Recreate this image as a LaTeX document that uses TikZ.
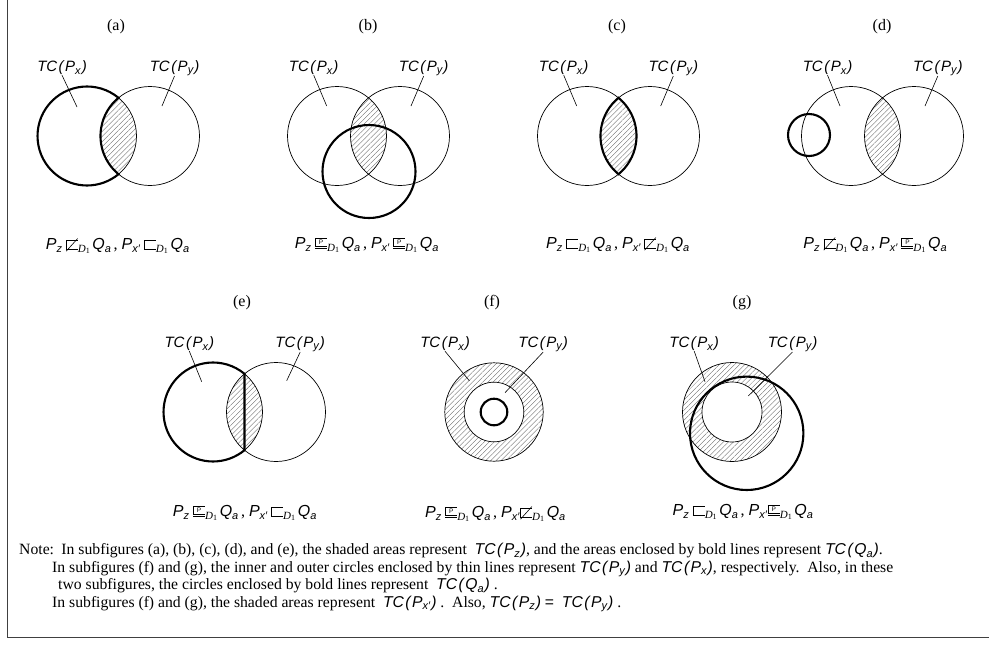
\documentclass[tikz,border=0pt]{standalone}
\usepackage{fontspec}
\usepackage{graphicx}
\setmainfont{Liberation Serif}
\newfontfamily\hvf{Liberation Sans}
\usetikzlibrary{patterns.meta}

\newcommand\hvi{\hvf\itshape}
\newcommand\lowsub[1]{\raisebox{-0.32ex}{\fontsize{11}{11}\selectfont #1}}
\newcommand\tcof[2]{{\hvi TC\kern1.5pt(\kern1.5pt#1\lowsub{#2}\kern1pt)}}
\newcommand\Dsub{\lowsub{\textit{D}\raisebox{-0.3ex}{\fontsize{8}{8}\selectfont 1}}}
\newcommand\sqbar{\vrule width .6pt height 10pt depth 0pt\kern-.6pt\vbox to 10pt{\hrule width 12pt height .6pt\vfill\hrule width 12pt height .6pt}}
\newcommand\sqsym{\hbox{\sqbar}}
\newcommand\nsqsym{\hbox{\rlap{\sqbar}\raisebox{-1.5pt}{\rotatebox{48}{\rule{17pt}{.6pt}}}}}
\newcommand\psqsym{\hbox{\vbox{\hbox{\vrule width .6pt height 8.5pt depth 0pt\kern-.6pt\vbox to 8.5pt{\hrule width 12pt height .6pt\vfil\hbox to 12pt{\hss{\fontsize{6.5}{6.5}\selectfont\hvf P}\hss}\vfil\hrule width 12pt height .6pt}}\kern1.6pt\hrule width 12pt height .6pt}}}
\newcommand\Pz{{\hvi P\lowsub{z}}}
\newcommand\Pxp{{\hvi P\lowsub{x′}}}
\newcommand\Qa{{\hvi Q\lowsub{a}}}

\begin{document}
\begin{tikzpicture}[x=1pt,y=-1pt,
  thinline/.style={line width=0.7pt},
  boldline/.style={line width=2.1pt},
  hatch/.style={pattern={Lines[angle=45,distance=3.6pt,line width=0.35pt]},pattern color=black!60},
  sublabel/.style={font=\fontsize{16}{16}\selectfont, inner sep=0pt},
  tclabel/.style={font=\fontsize{15}{15}\selectfont, inner sep=0pt},
  relation/.style={font=\fontsize{16}{16}\selectfont, inner sep=0pt},
  notetext/.style={font=\fontsize{15.7}{15.7}\selectfont, inner sep=0pt, anchor=base west},
  leader/.style={line width=0.6pt}]
\useasboundingbox (0,0) rectangle (989,646);

% frame
\coordinate (ftop) at (7,0);
\coordinate (fcorner) at (7,637);
\coordinate (fright) at (989,637);
\draw[line width=1pt, black!75] (ftop) -- (fcorner) -- (fright);

% ---------- (a)
\node[sublabel] (la) at (116,27) {(a)};
\coordinate (aL) at (87,136); \coordinate (aR) at (150,136);
\coordinate (aT) at (118.5,97.8);
\begin{scope}\clip (aL) circle[radius=49.5]; \fill[hatch] (aR) circle[radius=49.5];\end{scope}
\draw[thinline] (aL) circle[radius=49.5] (aR) circle[radius=49.5];
\draw[boldline] (aT) arc[start angle=-50.5,end angle=-309.5,radius=49.5] arc[start angle=129.5,end angle=230.5,radius=49.5] -- cycle;
\node[tclabel] (aPx) at (62,68) {\tcof{P}{x}};
\node[tclabel] (aPy) at (174.5,68) {\tcof{P}{y}};
\coordinate (aPxE) at (77,107); \coordinate (aPyE) at (162,106);
\draw[leader] (aPx.south) -- (aPxE);
\draw[leader] (aPy.south) -- (aPyE);
\node[relation] (ra) at (117.5,246) {\Pz\ \nsqsym\Dsub\,\Qa\,,\ \Pxp\ \sqsym\Dsub\,\Qa};

% ---------- (b)
\node[sublabel] (lb) at (368,27) {(b)};
\coordinate (bL) at (337,136); \coordinate (bR) at (400,136);
\coordinate (bQ) at (369,171.5);
\begin{scope}\clip (bL) circle[radius=49.5]; \fill[hatch] (bR) circle[radius=49.5];\end{scope}
\draw[thinline] (bL) circle[radius=49.5] (bR) circle[radius=49.5];
\draw[boldline] (bQ) circle[radius=46.5];
\node[tclabel] (bPx) at (313.7,68) {\tcof{P}{x}};
\node[tclabel] (bPy) at (423.7,68) {\tcof{P}{y}};
\coordinate (bPxE) at (326.7,106); \coordinate (bPyE) at (411,106);
\draw[leader] (bPx.south) -- (bPxE);
\draw[leader] (bPy.south) -- (bPyE);
\node[relation] (rb) at (366.7,245) {\Pz\ \psqsym\Dsub\,\Qa\,,\ \Pxp\ \psqsym\Dsub\,\Qa};

% ---------- (c)
\node[sublabel] (lc) at (617,27) {(c)};
\coordinate (cL) at (587,136); \coordinate (cR) at (650,136);
\coordinate (cT) at (618.5,97.8);
\begin{scope}\clip (cL) circle[radius=49.5]; \fill[hatch] (cR) circle[radius=49.5];\end{scope}
\draw[thinline] (cL) circle[radius=49.5] (cR) circle[radius=49.5];
\draw[boldline] (cT) arc[start angle=-50.5,end angle=50.5,radius=49.5] arc[start angle=129.5,end angle=230.5,radius=49.5] -- cycle;
\node[tclabel] (cPx) at (563.7,68) {\tcof{P}{x}};
\node[tclabel] (cPy) at (673.3,68) {\tcof{P}{y}};
\coordinate (cPxE) at (576.7,106); \coordinate (cPyE) at (660.7,106);
\draw[leader] (cPx.south) -- (cPxE);
\draw[leader] (cPy.south) -- (cPyE);
\node[relation] (rc) at (617.7,245) {\Pz\ \sqsym\Dsub\,\Qa\,,\ \Pxp\ \nsqsym\Dsub\,\Qa};

% ---------- (d)
\node[sublabel] (ld) at (882,27) {(d)};
\coordinate (dL) at (851,136); \coordinate (dR) at (914,136);
\coordinate (dQ) at (809,135);
\begin{scope}\clip (dL) circle[radius=49.5]; \fill[hatch] (dR) circle[radius=49.5];\end{scope}
\draw[thinline] (dL) circle[radius=49.5] (dR) circle[radius=49.5];
\draw[boldline] (dQ) circle[radius=21];
\node[tclabel] (dPx) at (827.5,68) {\tcof{P}{x}};
\node[tclabel] (dPy) at (937.8,68) {\tcof{P}{y}};
\coordinate (dPxE) at (840,106); \coordinate (dPyE) at (925,106);
\draw[leader] (dPx.south) -- (dPxE);
\draw[leader] (dPy.south) -- (dPyE);
\node[relation] (rd) at (875,245) {\Pz\ \nsqsym\Dsub\,\Qa\,,\ \Pxp\ \psqsym\Dsub\,\Qa};

% ---------- (e)
\node[sublabel] (le) at (242,303) {(e)};
\coordinate (eL) at (213,412); \coordinate (eR) at (276,412);
\coordinate (eT) at (244.5,373.8); \coordinate (eB) at (244.5,450.2);
\begin{scope}\clip (eL) circle[radius=49.5]; \fill[hatch] (eR) circle[radius=49.5];\end{scope}
\draw[thinline] (eL) circle[radius=49.5] (eR) circle[radius=49.5];
\draw[boldline] (eT) arc[start angle=-50.5,end angle=-309.5,radius=49.5] -- cycle;
\node[tclabel] (ePx) at (189.3,344) {\tcof{P}{x}};
\node[tclabel] (ePy) at (300.2,344) {\tcof{P}{y}};
\coordinate (ePxE) at (201.7,381.7); \coordinate (ePyE) at (286.7,380.7);
\draw[leader] (ePx.south) -- (ePxE);
\draw[leader] (ePy.south) -- (ePyE);
\node[relation] (re) at (244.7,513) {\Pz\ \psqsym\Dsub\,\Qa\,,\ \Pxp\ \sqsym\Dsub\,\Qa};

% ---------- (f)
\node[sublabel] (lf) at (492,303) {(f)};
\coordinate (fC) at (494,412);
\fill[hatch, even odd rule] (fC) circle[radius=49.2] (fC) circle[radius=29.8];
\draw[thinline] (fC) circle[radius=49.2] (fC) circle[radius=29.8];
\draw[boldline] (fC) circle[radius=13.3];
\node[tclabel] (fPx) at (445,344) {\tcof{P}{x}};
\node[tclabel] (fPy) at (543.2,344) {\tcof{P}{y}};
\coordinate (fPxE) at (469.3,380.7); \coordinate (fPyE) at (505,392.7);
\draw[leader] (fPx.south) -- (fPxE);
\draw[leader] (fPy.south) -- (fPyE);
\node[relation] (rf) at (495.2,514) {\Pz\ \psqsym\Dsub\,\Qa\,,\ \Pxp\kern1pt\nsqsym\Dsub\,\Qa};

% ---------- (g)
\node[sublabel] (lg) at (742,303) {(g)};
\coordinate (gC) at (732,412);
\coordinate (gQ) at (746.7,433.3);
\fill[hatch, even odd rule] (gC) circle[radius=49.5] (gC) circle[radius=30];
\draw[thinline] (gC) circle[radius=49.5] (gC) circle[radius=30];
\draw[boldline] (gQ) circle[radius=56.7];
\node[tclabel] (gPx) at (694.2,344) {\tcof{P}{x}};
\node[tclabel] (gPy) at (792.5,344) {\tcof{P}{y}};
\coordinate (gPxE) at (705,381.7); \coordinate (gPyE) at (748.3,396);
\draw[leader] (gPx.south) -- (gPxE);
\draw[leader] (gPy.south) -- (gPyE);
\node[relation] (rg) at (742.8,512) {\Pz\ \sqsym\Dsub\,\Qa\,,\ \Pxp\kern1pt\psqsym\Dsub\,\Qa};

% ---------- note
\node[notetext] (n1a) at (19,554.5) {Note:};
\node[notetext, anchor=base east] (n1b) at (883,554.5) {In subfigures (a), (b), (c), (d), and (e), the shaded areas represent \ \tcof{P}{z}, and the areas enclosed by bold lines represent \tcof{Q}{a}.};
\node[notetext] (n2) at (52,572) {In subfigures (f) and (g), the inner and outer circles enclosed by thin lines represent \tcof{P}{y} and \tcof{P}{x}, respectively.\ \ Also, in these};
\node[notetext] (n3) at (58,589.5) {two subfigures, the circles enclosed by bold lines represent \ \tcof{Q}{a}\ .};
\node[notetext] (n4) at (52,607) {In subfigures (f) and (g), the shaded areas represent \ \tcof{P}{x′}\ .\ \ Also, \tcof{P}{z} {\hvf =} \ \tcof{P}{y}\ .};
\end{tikzpicture}
\end{document}
